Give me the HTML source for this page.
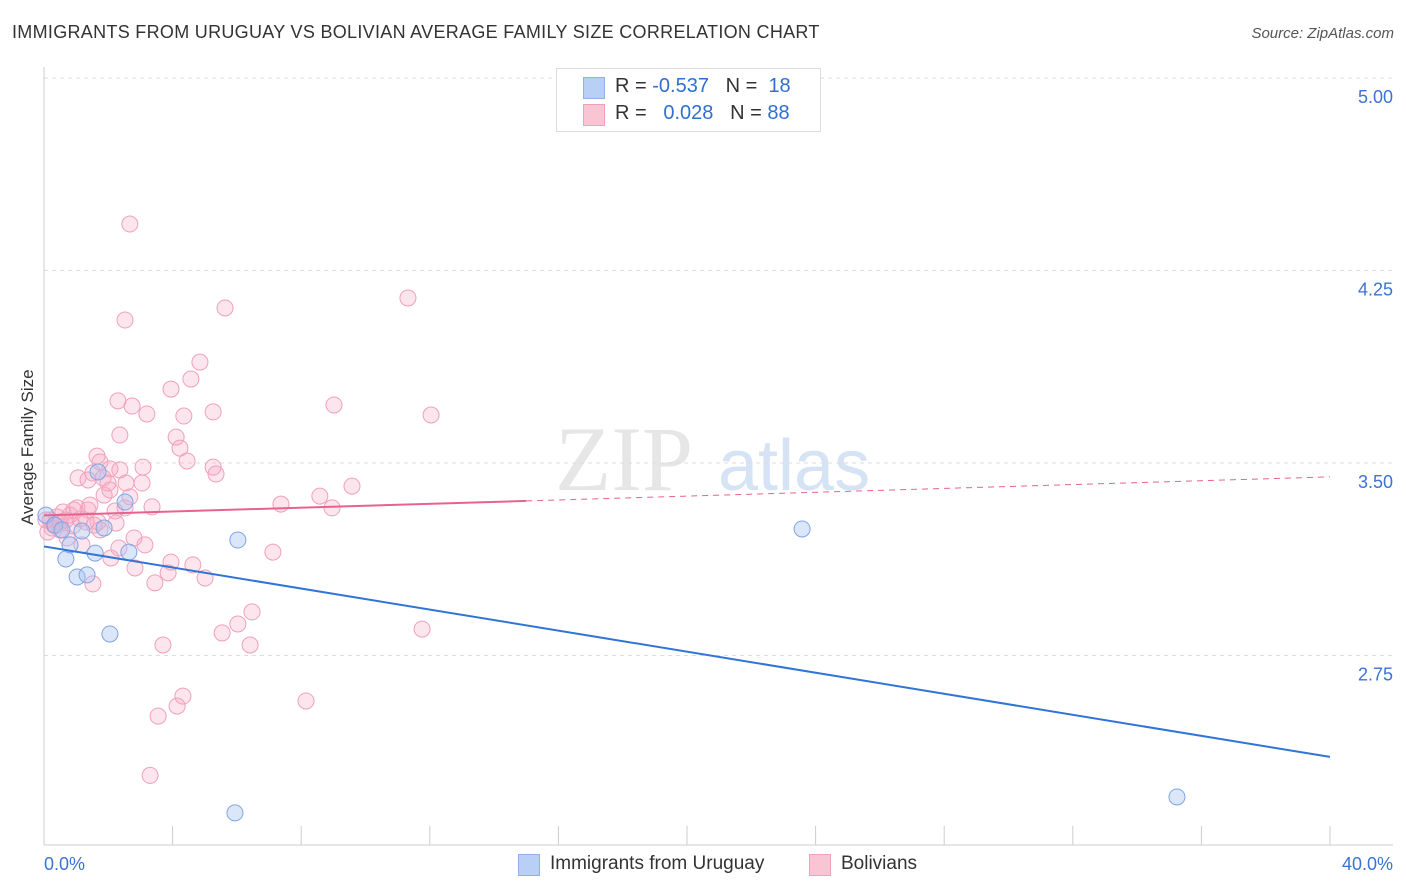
<!DOCTYPE html>
<html><head><meta charset="utf-8"><style>
body{margin:0;background:#fff;font-family:"Liberation Sans",sans-serif;}
#wrap{position:relative;width:1406px;height:892px;overflow:hidden;}
.t{position:absolute;white-space:nowrap;}
</style></head><body>
<div id="wrap">
<div class="t" style="left:12px;top:22px;font-size:18px;color:#333;letter-spacing:0.3px;">IMMIGRANTS FROM URUGUAY VS BOLIVIAN AVERAGE FAMILY SIZE CORRELATION CHART</div>
<div class="t" style="right:12px;top:25px;font-size:15px;color:#555;font-style:italic;">Source: ZipAtlas.com</div>
<div class="t" style="left:-42px;top:445px;font-size:17px;color:#333;transform:rotate(-90deg);width:140px;text-align:center;">Average Family Size</div>
<svg id="svg" width="1406" height="892" style="position:absolute;left:0;top:0"></svg>
<div style="position:absolute;left:556px;top:68px;width:263px;height:62px;border:1px solid #ddd;background:#fff;font-size:20px;color:#333;">
 <div style="position:absolute;left:26px;top:8px;width:20px;height:20px;background:#b8d0f5;border:1px solid #8fb0e8;"></div>
 <div class="t" style="left:58px;top:6px;">R = <span style="color:#2f6fd0">-0.537</span>&nbsp;&nbsp;&nbsp;N = &nbsp;<span style="color:#2f6fd0">18</span></div>
 <div style="position:absolute;left:26px;top:35px;width:20px;height:20px;background:#f9c4d4;border:1px solid #f0a0bb;"></div>
 <div class="t" style="left:58px;top:33px;">R = &nbsp;&nbsp;<span style="color:#2f6fd0">0.028</span>&nbsp;&nbsp;&nbsp;N = <span style="color:#2f6fd0">88</span></div>
</div>
<div style="position:absolute;left:518px;top:853px;font-size:19px;color:#333;">
 <div style="position:absolute;left:0;top:1px;width:20px;height:20px;background:#b8d0f5;border:1px solid #8fb0e8;"></div>
 <div class="t" style="left:32px;top:0;">Immigrants from Uruguay</div>
 <div style="position:absolute;left:291px;top:1px;width:20px;height:20px;background:#f9c4d4;border:1px solid #f0a0bb;"></div>
 <div class="t" style="left:323px;top:0;">Bolivians</div>
</div>
</div>
<script>
const yTicks=[5.00,4.25,3.50,2.75];
const xTickLabels=["0.0%","40.0%"];
const uruX=[0.06,0.34,0.56,0.68,0.81,1.03,1.34,1.18,1.59,1.68,1.87,2.05,2.52,2.64,6.03,5.94,23.58,35.24];
const uruY=[3.297,3.258,3.239,3.126,3.181,3.056,3.064,3.235,3.149,3.465,3.247,2.834,3.348,3.153,3.200,2.137,3.243,2.199];
const bolX=[2.67,11.32,5.63,2.52,4.85,4.57,3.95,2.30,2.74,9.02,5.26,4.35,3.20,12.04,2.36,4.11,4.23,1.65,1.74,4.45,5.26,3.08,2.05,1.52,5.35,1.06,1.37,1.84,2.55,3.05,2.05,9.58,1.87,8.58,7.37,8.96,3.36,2.52,1.03,1.37,0.59,0.81,0.40,0.19,2.21,1.68,1.56,2.24,0.90,0.50,0.25,0.12,0.72,1.18,2.33,2.80,3.95,2.08,7.12,4.63,2.83,3.86,5.01,3.45,1.52,6.47,6.03,5.54,11.76,3.70,6.41,4.32,4.14,8.15,3.55,3.30,0.06,0.50,1.12,0.68,0.31,0.93,1.31,1.74,2.67,1.99,3.14,1.43,2.36];
const bolY=[4.431,4.143,4.104,4.057,3.893,3.827,3.788,3.742,3.722,3.726,3.699,3.683,3.691,3.687,3.609,3.601,3.558,3.527,3.504,3.508,3.484,3.484,3.477,3.461,3.457,3.442,3.434,3.442,3.422,3.422,3.395,3.410,3.375,3.371,3.340,3.325,3.329,3.325,3.325,3.317,3.309,3.297,3.290,3.278,3.313,3.270,3.258,3.266,3.255,3.239,3.247,3.231,3.208,3.181,3.169,3.208,3.114,3.130,3.153,3.103,3.091,3.072,3.052,3.033,3.029,2.920,2.873,2.838,2.853,2.791,2.791,2.592,2.553,2.573,2.514,2.283,3.278,3.270,3.282,3.278,3.258,3.317,3.270,3.239,3.368,3.422,3.181,3.336,3.473];
const uruTrend=[3.175,-0.0205];
const bolTrend=[3.296,0.00375];
const bolSolidEnd=15;

const X=v=>44+v*32.15, Y=v=>463-(v-3.5)*256.7;
const svg=document.getElementById('svg'),NS='http://www.w3.org/2000/svg';
function mk(t,a){const e=document.createElementNS(NS,t);for(const k in a)e.setAttribute(k,a[k]);svg.appendChild(e);return e;}
let w=mk('text',{x:555,y:490,'font-size':92,fill:'#e6e6e6','font-family':'Liberation Serif,serif'});w.textContent='ZIP';


let w2=mk('text',{x:718,y:490,'font-size':72,fill:'#d5e3f5','font-family':'Liberation Sans,sans-serif'});w2.textContent='atlas';


yTicks.forEach(v=>{
 let g=mk('line',{x1:44,x2:1393,y1:Y(v),y2:Y(v),stroke:'#ddd','stroke-dasharray':'4,4'});
 
 
 let t=mk('text',{x:1393,y:Y(v)+25,'text-anchor':'end','font-size':18,fill:'#3b73d4'});t.textContent=v.toFixed(2);
 
 
});
let ax=mk('line',{x1:44,x2:1393,y1:845,y2:845,stroke:'#ccc'});


let ay=mk('line',{x1:44,x2:44,y1:67,y2:845,stroke:'#ccc'});


for(let i=0;i<=40;i+=4){let tk=mk('line',{x1:X(i),x2:X(i),y1:826,y2:845,stroke:'#ccc'});
 
 }
[[0,'start',44],[40,'end',1393]].forEach((d,i)=>{let t=mk('text',{x:d[2],y:870,'text-anchor':d[1],'font-size':18,fill:'#3b73d4'});t.textContent=xTickLabels[i];
 
 });
bolX.forEach((x,i)=>{let c=mk('circle',{cx:X(x),cy:Y(bolY[i]),r:8,fill:'rgba(248,170,195,0.3)',stroke:'#f0a0bb','stroke-width':1});
 
 });
uruX.forEach((x,i)=>{let c=mk('circle',{cx:X(x),cy:Y(uruY[i]),r:8,fill:'rgba(165,195,240,0.4)',stroke:'#7fa5e6','stroke-width':1});
 
 });
let l1=mk('line',{x1:X(0),y1:Y(uruTrend[0]),x2:X(40),y2:Y(uruTrend[0]+uruTrend[1]*40),stroke:'#2f74d6','stroke-width':2});


let l2=mk('line',{x1:X(0),y1:Y(bolTrend[0]),x2:X(bolSolidEnd),y2:Y(bolTrend[0]+bolTrend[1]*bolSolidEnd),stroke:'#e8628f','stroke-width':2});


let l3=mk('line',{x1:X(bolSolidEnd),y1:Y(bolTrend[0]+bolTrend[1]*bolSolidEnd),x2:X(40),y2:Y(bolTrend[0]+bolTrend[1]*40),stroke:'#e8628f','stroke-width':1,'stroke-dasharray':'6,5'});


</script>
</body></html>
